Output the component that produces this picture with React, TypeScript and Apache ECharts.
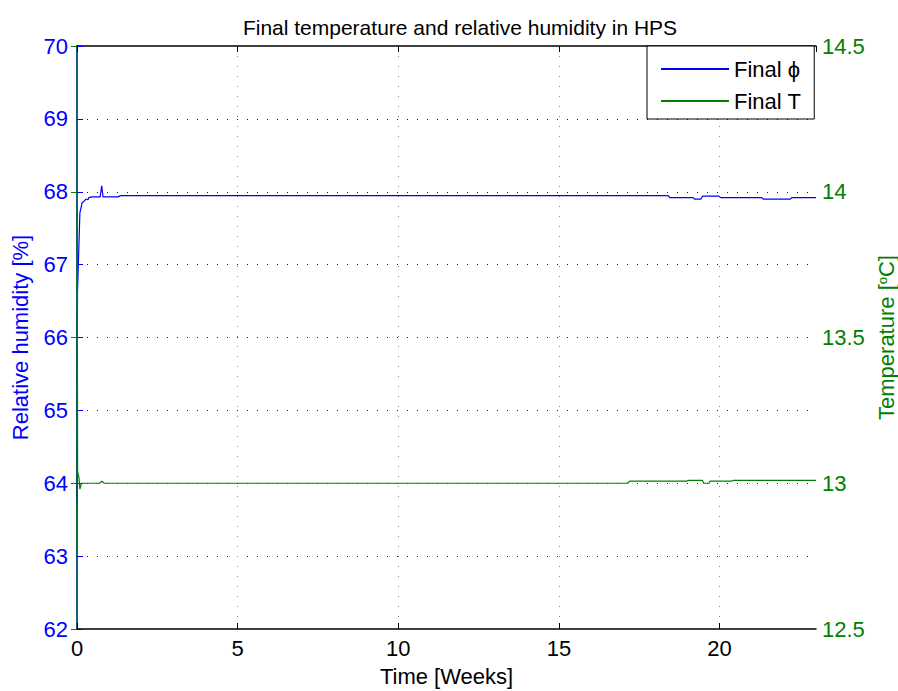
import React, { useEffect, useRef } from "react";
import * as echarts from "echarts";

const titleText = "Final temperature and relative humidity in HPS";
const xTicks = { min: 0, max: 23, interval: 5 };
const humidityAxis = { min: 62, max: 70, interval: 1 };
const tempAxis = { min: 12.5, max: 14.5, interval: 0.5 };

// Final phi (relative humidity, %) : [weeks, value]
const humidityData: [number, number][] = [
  [0, 63.7], [0.015, 66.61], [0.09, 67.71], [0.16, 67.85], [0.22, 67.87],
  [0.28, 67.9], [0.34, 67.89], [0.37, 67.92], [0.47, 67.93], [0.72, 67.93],
  [0.77, 68.08], [0.81, 67.93], [1.28, 67.93], [1.35, 67.947], [18.4, 67.947],
  [18.45, 67.92], [19.17, 67.92], [19.22, 67.9], [19.42, 67.9], [19.47, 67.94],
  [19.98, 67.94], [20.03, 67.92], [21.31, 67.92], [21.36, 67.9], [22.2, 67.9],
  [22.25, 67.92], [23, 67.92],
];

// Final T (temperature, degC) : [weeks, value]
const temperatureData: [number, number][] = [
  [0, 12.77], [0.005, 13.94], [0.02, 13.04], [0.06, 13.02], [0.09, 12.98],
  [0.14, 13.0], [0.7, 13.0], [0.77, 13.007], [0.85, 13.0], [17.14, 13.0],
  [17.2, 13.007], [18.98, 13.007], [19.03, 13.01], [19.47, 13.01], [19.5, 13.0],
  [19.67, 13.0], [19.7, 13.007], [20.38, 13.007], [20.43, 13.01], [23, 13.01],
];

const FONT = "Liberation Sans, Arial, Helvetica, sans-serif";
const FS = 22;

export default function App() {
  const ref = useRef<HTMLDivElement>(null);
  useEffect(() => {
    if (!ref.current) return;
    const chart = echarts.init(ref.current, null, { renderer: "svg" });
    chart.setOption({
      animation: false,
      backgroundColor: "#fff",
      textStyle: { fontFamily: FONT },
      title: {
        text: titleText,
        left: 455,
        textAlign: "center",
        top: 12,
        textStyle: { fontSize: 21, fontWeight: "normal", color: "#000", fontFamily: FONT },
      },
      legend: {
        orient: "vertical",
        left: 647,
        top: 46,
        padding: [12, 13, 7, 14],
        itemGap: 10,
        itemWidth: 68,
        itemHeight: 2,
        icon: "rect",
        backgroundColor: "#fff",
        borderColor: "#000",
        borderWidth: 1,
        borderRadius: 0,
        textStyle: { fontSize: FS, color: "#000", fontFamily: FONT },
        data: ["Final ϕ", "Final T"],
      },
      grid: { left: 77, right: 82, top: 46, bottom: 62, outerBoundsMode: "none", containLabel: false },
      xAxis: [
        {
          type: "value",
          min: xTicks.min,
          max: xTicks.max,
          interval: xTicks.interval,
          name: "Time [Weeks]",
          nameLocation: "middle",
          nameGap: 36,
          nameTextStyle: { fontSize: FS, color: "#000", fontFamily: FONT },
          axisLine: { show: true, lineStyle: { color: "#000", width: 1.5 } },
          axisTick: { show: true, inside: true, length: 6, lineStyle: { color: "#000" } },
          axisLabel: { fontSize: FS, color: "#000", margin: 8, fontFamily: FONT, showMaxLabel: false },
          splitLine: {
            show: true,
            showMinLine: false,
            showMaxLine: false,
            lineStyle: { color: "#888", type: [1, 9], width: 1 },
          },
        },
        {
          type: "value",
          position: "top",
          min: xTicks.min,
          max: xTicks.max,
          interval: xTicks.interval,
          axisLine: { show: true, lineStyle: { color: "#000", width: 1.5 } },
          axisTick: { show: true, inside: true, length: 6, lineStyle: { color: "#000" } },
          axisLabel: { show: false },
          splitLine: { show: false },
        },
      ],
      yAxis: [
        {
          type: "value",
          position: "left",
          min: humidityAxis.min,
          max: humidityAxis.max,
          interval: humidityAxis.interval,
          name: "Relative humidity [%]",
          nameLocation: "middle",
          nameRotate: 90,
          nameGap: 46,
          nameTextStyle: { fontSize: FS, color: "#0000ff", fontFamily: FONT },
          axisLine: { show: true, lineStyle: { color: "#0000ff", width: 1.5 } },
          axisTick: { show: true, inside: true, length: 6, lineStyle: { color: "#0000ff" } },
          axisLabel: { fontSize: FS, color: "#0000ff", margin: 9, fontFamily: FONT },
          splitLine: {
            show: true,
            showMinLine: false,
            showMaxLine: false,
            lineStyle: { color: "#0000ff", type: [1, 9], width: 1 },
          },
        },
        {
          type: "value",
          position: "right",
          min: tempAxis.min,
          max: tempAxis.max,
          interval: tempAxis.interval,
          name: "Temperature [{sup|o}C]",
          nameLocation: "middle",
          nameRotate: 90,
          nameGap: 57,
          nameTextStyle: {
            fontSize: FS,
            color: "#008000",
            fontFamily: FONT,
            rich: {
              sup: { fontSize: 13, color: "#008000", verticalAlign: "top", padding: [0, 0, 9, 0], fontFamily: FONT },
            },
          },
          axisLine: { show: true, lineStyle: { color: "#0a6a5a", width: 1.5 } },
          axisTick: { show: true, inside: true, length: 6, lineStyle: { color: "#008000" } },
          axisLabel: {
            fontSize: FS,
            color: "#008000",
            margin: 6,
            fontFamily: FONT,
            formatter: (v: number) => v.toFixed(1).replace(/\.0$/, ""),
          },
          splitLine: { show: false },
        },
      ],
      series: [
        {
          name: "Final ϕ",
          type: "line",
          xAxisIndex: 0,
          yAxisIndex: 0,
          data: humidityData,
          symbol: "none",
          lineStyle: { color: "#0000ff", width: 1.2 },
          itemStyle: { color: "#0000ff" },
          z: 3,
        },
        {
          name: "Final T",
          type: "line",
          xAxisIndex: 0,
          yAxisIndex: 1,
          data: temperatureData,
          symbol: "none",
          lineStyle: { color: "#008000", width: 1.2 },
          itemStyle: { color: "#008000" },
          z: 3,
        },
      ],
    });
    return () => chart.dispose();
  }, []);
  return <div ref={ref} style={{ width: 898, height: 691, position: "fixed", left: 0, top: 0 }} />;
}
